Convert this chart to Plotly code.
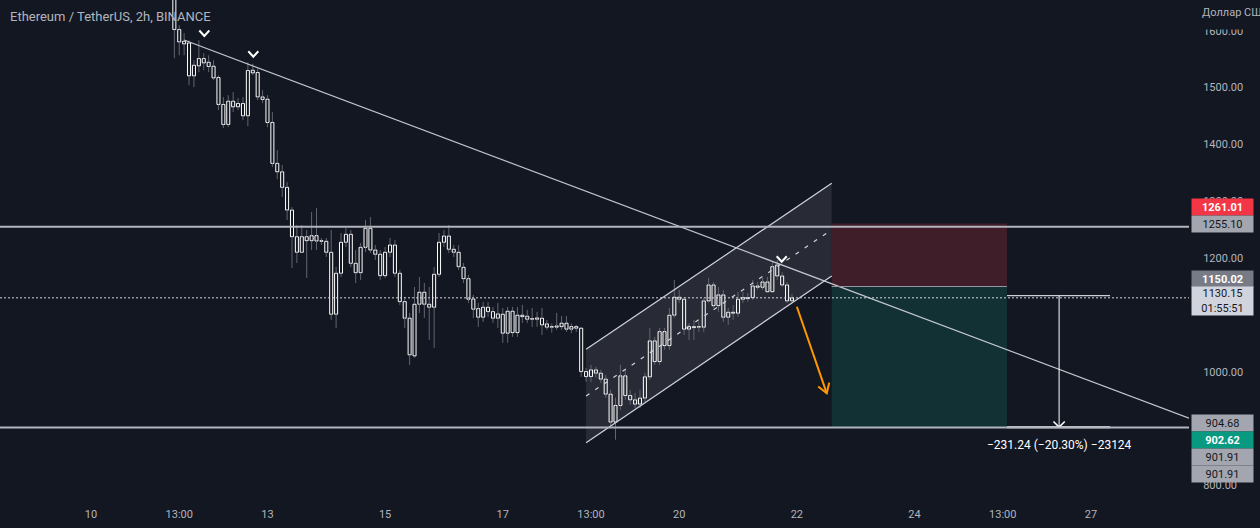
import math
import pandas as pd
import plotly.graph_objects as go

# ---------------- data ----------------
candle_start = "2022-06-11 11:00"
candle_step = "2h"

opens = [
    1669.0, 1602.2, 1581.6, 1578.7, 1520.7, 1538.2, 1551.2, 1544.7, 1537.7, 1517.8,
    1470.4, 1435.2, 1476.2, 1466.2, 1472.1, 1450.4, 1530.7, 1526.6, 1483.7, 1479.7,
    1438.7, 1366.7, 1351.9, 1324.5, 1284.6, 1237.7, 1210.3, 1237.7, 1230.7, 1239.5,
    1230.7, 1229.6, 1210.3, 1101.3, 1173.4, 1227.9, 1241.9, 1190.9, 1174.4, 1219.0,
    1252.5, 1214.3, 1206.8, 1169.2, 1210.3, 1223.1, 1173.4, 1123.5, 1094.3, 1028.0,
    1118.9, 1140.0, 1118.9, 1113.6, 1171.6, 1227.9, 1238.9, 1215.6, 1210.3, 1183.9,
    1163.9, 1128.2, 1111.2, 1096.0, 1113.6, 1105.9, 1094.3, 1101.3, 1067.9, 1106.6,
    1069.0, 1099.6, 1097.8, 1092.5, 1094.8, 1094.3, 1084.3, 1078.5, 1080.7, 1079.5,
    1085.5, 1075.0, 1079.5, 1076.7, 1000.4, 991.6, 1003.4, 997.6, 987.1, 960.7,
    911.5, 940.7, 992.9, 958.3, 950.7, 943.1, 953.7, 991.1, 1054.4, 1018.0,
    1070.7, 1046.1, 1099.6, 1131.2, 1127.7, 1075.0, 1079.5, 1078.5, 1078.5, 1124.7,
    1152.8, 1116.4, 1135.3, 1096.0, 1104.8, 1103.1, 1127.7, 1130.5, 1130.5, 1151.0,
    1148.7, 1158.1, 1141.0, 1188.0, 1168.6, 1152.8, 1125.0]

highs = [
    1694.0, 1609.8, 1595.7, 1583.4, 1548.2, 1583.4, 1560.6, 1557.0, 1548.2, 1521.9,
    1483.2, 1486.7, 1492.0, 1481.5, 1483.2, 1544.7, 1542.0, 1534.2, 1495.5, 1486.7,
    1456.9, 1390.1, 1364.0, 1333.8, 1289.9, 1258.3, 1258.3, 1249.5, 1281.1, 1288.1,
    1235.4, 1235.4, 1249.5, 1184.4, 1244.2, 1253.0, 1249.5, 1214.3, 1226.6, 1267.0,
    1272.3, 1223.1, 1214.3, 1219.6, 1235.4, 1231.9, 1179.2, 1131.7, 1103.6, 1149.3,
    1166.9, 1156.3, 1149.3, 1184.4, 1244.2, 1249.5, 1258.3, 1223.1, 1223.1, 1191.5,
    1170.4, 1135.3, 1121.2, 1122.9, 1122.9, 1114.1, 1121.2, 1112.4, 1114.1, 1114.1,
    1114.1, 1117.7, 1108.9, 1112.4, 1105.4, 1112.4, 1091.3, 1085.0, 1103.6, 1098.0,
    1098.0, 1085.0, 1082.5, 1079.0, 1006.9, 1012.2, 1008.7, 1003.4, 994.6, 968.3,
    954.2, 1012.2, 1003.4, 968.3, 963.0, 968.3, 998.1, 1077.2, 1061.4, 1077.2,
    1077.2, 1112.4, 1161.6, 1144.0, 1131.7, 1086.0, 1091.3, 1088.0, 1129.9, 1165.1,
    1158.1, 1149.3, 1144.0, 1112.4, 1117.7, 1140.5, 1140.5, 1138.7, 1161.6, 1158.1,
    1165.1, 1166.9, 1193.8, 1196.8, 1175.0, 1158.1, 1137.0]

lows = [
    1551.8, 1557.0, 1557.0, 1504.3, 1500.8, 1527.2, 1530.7, 1527.2, 1513.1, 1460.4,
    1428.7, 1430.5, 1456.9, 1460.4, 1442.8, 1432.3, 1521.9, 1477.9, 1472.7, 1430.5,
    1360.2, 1339.0, 1307.5, 1267.0, 1182.7, 1191.5, 1209.0, 1165.1, 1214.3, 1214.3,
    1223.1, 1202.0, 1091.3, 1077.2, 1166.9, 1219.6, 1184.4, 1156.3, 1161.6, 1210.8,
    1209.0, 1196.8, 1161.6, 1165.1, 1202.0, 1166.9, 1117.7, 1077.2, 1012.2, 1024.5,
    1103.6, 1094.8, 1056.2, 1042.1, 1166.9, 1219.6, 1209.0, 1202.0, 1179.2, 1156.3,
    1121.2, 1094.8, 1079.0, 1087.8, 1096.6, 1086.0, 1077.2, 1050.9, 1050.9, 1061.4,
    1061.4, 1086.0, 1086.0, 1079.0, 1079.0, 1064.9, 1073.7, 1069.0, 1073.7, 1073.7,
    1070.2, 1068.0, 1070.2, 991.1, 982.3, 982.3, 989.4, 980.6, 954.2, 903.2,
    880.4, 933.1, 950.7, 941.9, 936.6, 936.6, 947.2, 985.8, 1012.2, 1012.2,
    1038.6, 1038.6, 1094.8, 1121.2, 1064.9, 1056.2, 1056.2, 1070.2, 1070.2, 1121.2,
    1112.4, 1105.4, 1087.8, 1082.5, 1091.3, 1096.6, 1121.2, 1123.0, 1126.5, 1144.0,
    1144.0, 1138.7, 1138.7, 1161.6, 1149.3, 1121.2, 1121.5]

closes = [
    1602.2, 1580.4, 1576.9, 1520.7, 1539.5, 1551.2, 1543.5, 1537.2, 1517.1, 1470.4,
    1435.2, 1476.2, 1466.2, 1472.1, 1450.4, 1530.1, 1525.9, 1483.7, 1479.2, 1438.7,
    1366.7, 1351.9, 1324.5, 1284.6, 1237.7, 1210.3, 1237.7, 1230.7, 1239.5, 1230.1,
    1229.6, 1210.3, 1101.3, 1173.4, 1227.9, 1241.9, 1190.9, 1174.4, 1219.0, 1252.5,
    1214.3, 1206.8, 1169.2, 1210.3, 1223.1, 1173.4, 1123.5, 1094.3, 1029.8, 1118.9,
    1140.0, 1118.9, 1113.6, 1171.6, 1227.9, 1238.9, 1215.6, 1210.3, 1185.0, 1163.9,
    1127.7, 1110.1, 1096.0, 1113.6, 1105.9, 1094.3, 1101.9, 1067.9, 1106.6, 1069.0,
    1099.6, 1097.1, 1092.5, 1093.6, 1092.5, 1082.5, 1078.5, 1079.5, 1078.5, 1085.5,
    1075.0, 1079.5, 1076.7, 1000.4, 991.6, 1003.4, 997.6, 987.1, 960.7, 911.5,
    940.7, 992.9, 958.3, 950.7, 943.1, 953.7, 991.1, 1054.4, 1018.0, 1070.7,
    1046.1, 1099.6, 1131.2, 1127.7, 1075.0, 1079.5, 1077.8, 1079.5, 1124.7, 1152.8,
    1116.4, 1135.3, 1096.0, 1104.8, 1103.1, 1127.7, 1130.5, 1128.8, 1151.0, 1148.7,
    1158.1, 1141.0, 1185.0, 1168.6, 1152.8, 1124.7, 1130.15]

x_tick_vals = ["2022-06-10 01:00", "2022-06-11 13:00", "2022-06-13 01:00", "2022-06-15 01:00",
               "2022-06-17 01:00", "2022-06-18 13:00", "2022-06-20 01:00", "2022-06-22 01:00",
               "2022-06-24 01:00", "2022-06-25 13:00", "2022-06-27 01:00"]
x_tick_text = ["10", "13:00", "13", "15", "17", "13:00", "20", "22", "24", "13:00", "27"]
# 900.00 and 1100.00 are hidden behind price labels in the reference
y_tick_vals = [800, 1000, 1200, 1300, 1400, 1500, 1600]
y_tick_text = ["800.00", "1000.00", "1200.00", "1300.00", "1400.00", "1500.00", "1600.00"]

resistance_level = 1255.10
support_level = 901.91
last_price = 1130.15

trend_time = ["2022-06-11 15:00", "2022-06-25 07:49"]
trend_price = [1583.8, 1050.1]

channel_time = ["2022-06-18 11:00", "2022-06-22 15:13"]
channel_upper = [1039.5, 1331.6]
channel_lower = [875.2, 1168.5]

position_time = ["2022-06-22 15:13", "2022-06-25 14:45"]
stop_price = 1261.01
entry_price = 1150.02
target_price = 902.62

arrow_time = ["2022-06-22 01:00", "2022-06-22 13:12"]
arrow_price = [1114.5, 962.1]

measure_time = ["2022-06-25 14:45", "2022-06-26 12:00", "2022-06-27 08:48"]
measure_price = [1133.86, 902.62]
measure_text = "−231.24 (−20.30%) −23124"

chevron_time = ["2022-06-11 23:14", "2022-06-12 19:13", "2022-06-21 18:49"]
chevron_price = [1590.9, 1554.4, 1193.7]

axis_label_text = ["1261.01", "1255.10", "1150.02", "1130.15<br>01:55:51",
                   "904.68", "902.62", "901.91", "901.91"]
axis_label_price = [1261.01, 1255.10, 1150.02, 1130.15, 904.68, 902.62, 901.91, 901.91]

title_text = "Ethereum / TetherUS, 2h, BINANCE"
currency_text = "Доллар США"

# ---------------- layout constants ----------------
FIG_W, FIG_H = 1260, 528
M_L, M_R, M_T, M_B = 0, 71, 0, 28
X_RANGE = ["2022-06-08 11:52", "2022-06-28 17:00"]
Y_RANGE = [774.4, 1654.2]
BG = "#131722"
TXT = "#b2b5be"
FONT = "Roboto, Arial, sans-serif"

T0 = pd.Timestamp(X_RANGE[0])
T1 = pd.Timestamp(X_RANGE[1])
PW = FIG_W - M_L - M_R
PH = FIG_H - M_T - M_B
PX_PER_SEC = PW / (T1 - T0).total_seconds()
PX_PER_PRICE = PH / (Y_RANGE[1] - Y_RANGE[0])


def to_px(t, p):
    return (pd.Timestamp(t) - T0).total_seconds() * PX_PER_SEC, (Y_RANGE[1] - p) * PX_PER_PRICE


def from_px(x, y):
    return T0 + pd.Timedelta(seconds=x / PX_PER_SEC), Y_RANGE[1] - y / PX_PER_PRICE


def open_head(t_from, p_from, t_to, p_to, length, angle_deg):
    x0, y0 = to_px(t_from, p_from)
    x1, y1 = to_px(t_to, p_to)
    d = math.hypot(x1 - x0, y1 - y0)
    ux, uy = (x1 - x0) / d, (y1 - y0) / d
    arms = []
    for s in (1, -1):
        a = math.radians(angle_deg) * s
        rx = ux * math.cos(a) - uy * math.sin(a)
        ry = ux * math.sin(a) + uy * math.cos(a)
        arms.append(from_px(x1 - length * rx, y1 - length * ry))
    tip = (pd.Timestamp(t_to), p_to)
    return [arms[0][0], tip[0], arms[1][0]], [arms[0][1], tip[1], arms[1][1]]


times = pd.date_range(candle_start, periods=len(opens), freq=candle_step)

fig = go.Figure()

# channel fill
fig.add_trace(go.Scatter(
    x=[channel_time[0], channel_time[1], channel_time[1], channel_time[0]],
    y=[channel_lower[0], channel_lower[1], channel_upper[1], channel_upper[0]],
    fill="toself", fillcolor="rgba(255,255,255,0.09)", line=dict(width=0),
    mode="lines", hoverinfo="skip"))

# wicks
wx, wy = [], []
for t, o, h, l, c in zip(times, opens, highs, lows, closes):
    top, bot = max(o, c), min(o, c)
    wx += [t, t, None, t, t, None]
    wy += [h, top, None, bot, l, None]
fig.add_trace(go.Scatter(x=wx, y=wy, mode="lines", line=dict(color="#62656f", width=1),
                         hoverinfo="skip"))

# bodies
bases = [min(o, c) for o, c in zip(opens, closes)]
heights = [abs(c - o) for o, c in zip(opens, closes)]
fig.add_trace(go.Bar(x=times, y=heights, base=bases, width=2 * 3600 * 1000 * 0.62,
                     marker=dict(color="rgba(0,0,0,0)", line=dict(color="#ffffff", width=1)),
                     hoverinfo="skip"))

# channel lines
fig.add_trace(go.Scatter(x=channel_time, y=channel_upper, mode="lines",
                         line=dict(color="#d1d4dc", width=1.2), hoverinfo="skip"))
fig.add_trace(go.Scatter(x=channel_time, y=channel_lower, mode="lines",
                         line=dict(color="#d1d4dc", width=1.2), hoverinfo="skip"))
fig.add_trace(go.Scatter(x=channel_time,
                         y=[(u + l) / 2 for u, l in zip(channel_upper, channel_lower)],
                         mode="lines", line=dict(color="#d1d4dc", width=1.2, dash="4px,7px"),
                         hoverinfo="skip"))

# descending trend line, extended to right edge
ta, tb = pd.Timestamp(trend_time[0]), pd.Timestamp(trend_time[1])
slope = (trend_price[1] - trend_price[0]) / (tb - ta).total_seconds()
p_end = trend_price[0] + slope * (T1 - ta).total_seconds()
fig.add_trace(go.Scatter(x=[ta, T1], y=[trend_price[0], p_end], mode="lines",
                         line=dict(color="#c3c5cc", width=1.2), hoverinfo="skip"))

# orange arrow
fig.add_trace(go.Scatter(x=arrow_time, y=arrow_price, mode="lines",
                         line=dict(color="#ff9800", width=2), hoverinfo="skip"))
hx, hy = open_head(arrow_time[0], arrow_price[0], arrow_time[1], arrow_price[1], 11, 32)
fig.add_trace(go.Scatter(x=hx, y=hy, mode="lines", line=dict(color="#ff9800", width=2),
                         hoverinfo="skip"))

# measurement tool
fig.add_trace(go.Scatter(x=[measure_time[0], measure_time[2]], y=[measure_price[0]] * 2,
                         mode="lines", line=dict(color="#ffffff", width=1), hoverinfo="skip"))
fig.add_trace(go.Scatter(x=[measure_time[0], measure_time[2]], y=[measure_price[1]] * 2,
                         mode="lines", line=dict(color="#ffffff", width=2), hoverinfo="skip"))
fig.add_trace(go.Scatter(x=[measure_time[1]] * 2, y=measure_price, mode="lines",
                         line=dict(color="#ffffff", width=1), hoverinfo="skip"))
mx, my = open_head(measure_time[1], measure_price[0], measure_time[1], measure_price[1], 8, 45)
fig.add_trace(go.Scatter(x=mx, y=my, mode="lines", line=dict(color="#ffffff", width=1.5),
                         hoverinfo="skip"))

# chevron markers
for t, p in zip(chevron_time, chevron_price):
    vx, vy = to_px(t, p)
    a = from_px(vx - 5, vy - 5.5)
    b = from_px(vx + 5, vy - 5.5)
    fig.add_trace(go.Scatter(x=[a[0], pd.Timestamp(t), b[0]], y=[a[1], p, b[1]], mode="lines",
                             line=dict(color="#ffffff", width=2), hoverinfo="skip"))

shapes = [
    # position tool
    dict(type="rect", xref="x", yref="y", x0=position_time[0], x1=position_time[1],
         y0=entry_price, y1=stop_price, fillcolor="rgba(242,54,69,0.2)", line=dict(width=0),
         layer="below"),
    dict(type="rect", xref="x", yref="y", x0=position_time[0], x1=position_time[1],
         y0=target_price, y1=entry_price, fillcolor="rgba(8,153,129,0.2)", line=dict(width=0),
         layer="below"),
    dict(type="line", xref="x", yref="y", x0=position_time[0], x1=position_time[1],
         y0=entry_price, y1=entry_price, line=dict(color="#9598a1", width=1), layer="above"),
    # horizontal levels
    dict(type="line", xref="paper", yref="y", x0=0, x1=1, y0=resistance_level, y1=resistance_level,
         line=dict(color="#b2b5be", width=2), layer="above"),
    dict(type="line", xref="paper", yref="y", x0=0, x1=1, y0=support_level, y1=support_level,
         line=dict(color="#b2b5be", width=2), layer="above"),
    dict(type="line", xref="paper", yref="y", x0=0, x1=1, y0=last_price, y1=last_price,
         line=dict(color="#d1d4dc", width=1, dash="2px,2px"), layer="above"),
]

label_styles = [
    dict(bg="#f23645", fg="#ffffff", bold=True, shift=16, h=16),
    dict(bg="#a3a6af", fg="#131722", bold=False, shift=3, h=16),
    dict(bg="#787b86", fg="#ffffff", bold=True, shift=8, h=16),
    dict(bg="#d1d4dc", fg="#131722", bold=False, shift=-3, h=28),
    dict(bg="#a3a6af", fg="#131722", bold=False, shift=3, h=16),
    dict(bg="#089981", fg="#ffffff", bold=True, shift=-13, h=16),
    dict(bg="#a3a6af", fg="#131722", bold=False, shift=-29, h=16),
    dict(bg="#a3a6af", fg="#131722", bold=False, shift=-46, h=16),
]

annotations = [
    dict(text=title_text, xref="paper", yref="paper", x=0, y=1, xanchor="left", yanchor="middle",
         xshift=8, yshift=-16, showarrow=False, font=dict(family=FONT, size=13, color=TXT)),
    dict(text=" ", xref="paper", yref="paper", x=1, y=1, xanchor="left", yanchor="top",
         xshift=0, width=80, height=28, bgcolor=BG, borderpad=0, showarrow=False,
         font=dict(family=FONT, size=11, color=TXT)),
    dict(text=currency_text, xref="paper", yref="paper", x=1, y=1, xanchor="left", yanchor="middle",
         xshift=11, yshift=-12, showarrow=False, font=dict(family=FONT, size=11, color=TXT)),
    dict(text=measure_text, xref="x", yref="y", x=measure_time[1], y=measure_price[1],
         yshift=-18, showarrow=False, font=dict(family=FONT, size=12, color="#ffffff")),
]
for txt, price, st in zip(axis_label_text, axis_label_price, label_styles):
    annotations.append(dict(
        text=f"<b>{txt}</b>" if st["bold"] else txt, xref="paper", yref="y", x=1, y=price,
        xanchor="left", yanchor="middle", xshift=2, yshift=st["shift"], width=61, height=st["h"],
        bgcolor=st["bg"], borderpad=0, align="center", valign="middle", showarrow=False,
        font=dict(family=FONT, size=11, color=st["fg"])))

fig.update_layout(
    width=FIG_W, height=FIG_H,
    margin=dict(l=M_L, r=M_R, t=M_T, b=M_B, pad=0),
    paper_bgcolor=BG, plot_bgcolor=BG,
    showlegend=False, hovermode=False, barmode="overlay",
    font=dict(family=FONT, size=11, color=TXT),
    shapes=shapes, annotations=annotations,
    xaxis=dict(type="date", range=X_RANGE, tickvals=x_tick_vals, ticktext=x_tick_text,
               showgrid=False, zeroline=False, showline=False, ticks="outside", ticklen=4,
               tickcolor="rgba(0,0,0,0)", tickfont=dict(family=FONT, size=11, color=TXT)),
    yaxis=dict(side="right", range=Y_RANGE, tickvals=y_tick_vals, ticktext=y_tick_text,
               showgrid=False, zeroline=False, showline=False, ticks="outside", ticklen=11,
               tickcolor="rgba(0,0,0,0)", tickfont=dict(family=FONT, size=11, color=TXT)),
)

fig.write_html("out.html")
